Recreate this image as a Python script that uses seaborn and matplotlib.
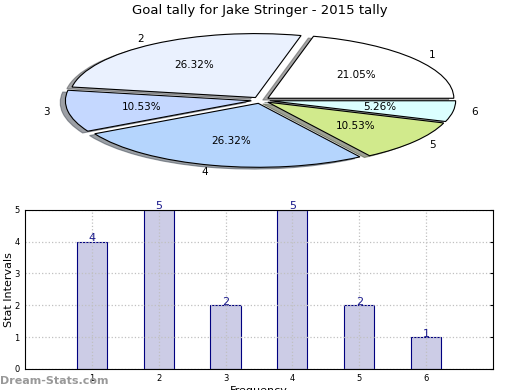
import matplotlib
matplotlib.use("Agg")
import matplotlib.pyplot as plt
import seaborn as sns
import pandas as pd

# data
categories = [1, 2, 3, 4, 5, 6]
tally = [4, 5, 2, 5, 2, 1]
pie_colors = ["#ffffff", "#eaf1fe", "#c5d8ff", "#b5d5fd", "#d1ea8c", "#dbffff"]

sns.set_style("white")
plt.rcParams['font.family'] = ['DejaVu Sans']
plt.rcParams['text.color'] = 'black'
plt.rcParams['axes.labelcolor'] = 'black'
plt.rcParams['xtick.color'] = 'black'
plt.rcParams['ytick.color'] = 'black'

fig = plt.figure(figsize=(5.2, 3.9), dpi=100)

# pie on top, squashed into an ellipse
ax_pie = fig.add_axes([0.054, 0.538, 0.894, 0.41])
ax_pie.pie(tally, labels=[str(c) for c in categories], colors=pie_colors,
           explode=[0.05] * len(tally), shadow=True, autopct='%1.2f%%',
           startangle=0, counterclock=True,
           wedgeprops={'edgecolor': 'black', 'linewidth': 0.8},
           textprops={'fontsize': 7.5, 'color': 'black'})
ax_pie.set_aspect('auto')
ax_pie.set_xlim(-1.25, 1.25)
ax_pie.set_ylim(-1.25, 1.25)
fig.text(0.5, 0.972, "Goal tally for Jake Stringer - 2015 tally", ha='center',
         va='center', fontsize=9.5)

# bars below
df = pd.DataFrame({'Frequency': categories, 'Stat Intervals': tally})
ax_bar = fig.add_axes([0.048, 0.054, 0.9, 0.408])
sns.barplot(data=df, x='Frequency', y='Stat Intervals', native_scale=True,
            width=0.45, color='#ccccE6', edgecolor='#000080', linewidth=0.8,
            saturation=1, ax=ax_bar)
ax_bar.bar_label(ax_bar.containers[0], color='#1a1a8c', fontsize=8, padding=-1)
ax_bar.set_xlim(0, 7)
ax_bar.set_ylim(0, 5)
ax_bar.set_xticks(categories)
ax_bar.set_yticks(range(0, 6))
ax_bar.tick_params(labelsize=6, direction='in', length=2, top=False, right=True,
                   pad=4)
ax_bar.grid(True, linestyle=':', color='#c0c0c0', linewidth=0.9)
ax_bar.set_axisbelow(False)
for s in ax_bar.spines.values():
    s.set_color('black')
    s.set_linewidth(0.8)
    s.set_zorder(4)
ax_bar.set_xlabel('Frequency', fontsize=8, labelpad=2)
ax_bar.set_ylabel('Stat Intervals', fontsize=8)
ax_bar.yaxis.set_label_coords(-0.0235, 0.5)

fig.text(0.0, 0.022, "Dream-Stats.com", color='#999999', fontsize=8,
         fontweight='bold', ha='left', va='center')

fig.savefig('out.png', dpi=100)
